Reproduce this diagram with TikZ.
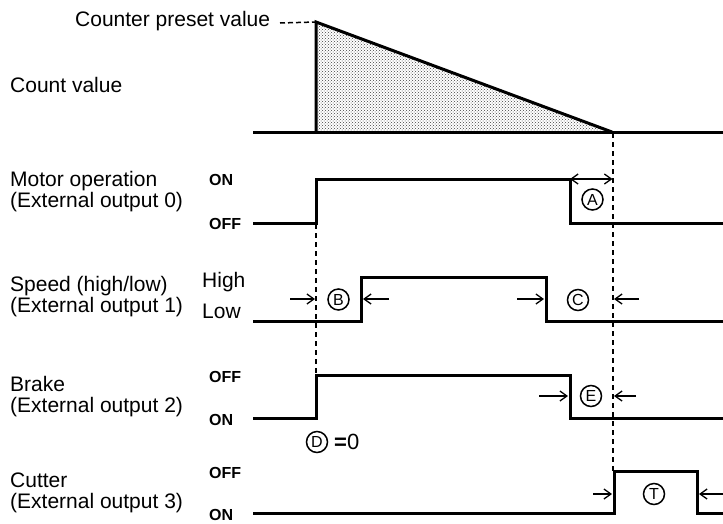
\documentclass[tikz,border=0pt]{standalone}
\usepackage{fontspec}
\setmainfont{Liberation Sans}
\usetikzlibrary{arrows.meta,patterns}
\begin{document}
\begin{tikzpicture}[x=1pt,y=-1pt,
  sig/.style={line width=3pt,line join=miter,line cap=butt},
  guide/.style={line width=1.6pt,dash pattern=on 5pt off 4pt},
  dim/.style={line width=1.3pt,-{Straight Barb[length=7pt,width=10pt,line width=1.3pt]}},
  dimboth/.style={line width=1.3pt,{Straight Barb[length=7pt,width=10pt,line width=1.3pt]}-{Straight Barb[length=7pt,width=10pt,line width=1.3pt]}},
  lbl/.style={anchor=base west,inner sep=0pt,font=\fontsize{21}{21}\selectfont},
  lvl/.style={anchor=base west,inner sep=0pt,font=\fontsize{16}{16}\selectfont\bfseries},
  circ/.style={circle,draw,line width=1.5pt,minimum size=21pt,inner sep=0pt,font=\fontsize{16}{16}\selectfont}]
\useasboundingbox (0,0) rectangle (723,523);

% ---------- Count value ----------
\node[lbl] (preset) at (75,26) {Counter preset value};
\node[lbl] (count) at (10,92) {Count value};
\coordinate (top) at (316,22);
\coordinate (zero) at (612,132);
\fill[pattern=crosshatch dots,pattern color=black!75] (316,132) -- (top) -- (zero) -- cycle;
\draw[sig] (253,132) -- (723,132);
\draw[sig] (316,132) -- (top) -- (zero);
\draw[line width=1.5pt,dash pattern=on 5pt off 3pt] (280,23) -- (top);

% ---------- Motor operation ----------
\node[lbl] (m1) at (10,186) {Motor operation};
\node[lbl] (m2) at (10,207) {(External output 0)};
\node[lvl] (mon) at (209,185) {ON};
\node[lvl] (moff) at (209,229) {OFF};
\draw[sig] (253,223) -- (316,223) -- (316,179) -- (570,179) -- (570,223) -- (723,223);
\draw[dimboth] (570,179) -- (612.5,179);
\node[circ] (A) at (592.5,199.5) {A};

% ---------- Speed ----------
\node[lbl] (s1) at (10,291) {Speed (high/low)};
\node[lbl] (s2) at (10,312) {(External output 1)};
\node[lbl] (high) at (202,287) {High};
\node[lbl] (low) at (202,318) {Low};
\draw[sig] (253,321) -- (361,321) -- (361,277) -- (546,277) -- (546,321) -- (723,321);
\draw[dim] (290,299) -- (315,299);
\node[circ] (B) at (338.5,299.5) {B};
\draw[dim] (389,299) -- (363,299);
\draw[dim] (517,299) -- (544,299);
\node[circ] (C) at (578,300) {C};
\draw[dim] (639,299) -- (614,299);

% ---------- Brake ----------
\node[lbl] (b1) at (10,391) {Brake};
\node[lbl] (b2) at (10,412) {(External output 2)};
\node[lvl] (boff) at (209,382) {OFF};
\node[lvl] (bon) at (209,425) {ON};
\draw[sig] (253,418) -- (316,418) -- (316,375) -- (570,375) -- (570,418) -- (723,418);
\draw[dim] (539,396) -- (568,396);
\node[circ] (E) at (591,396) {E};
\draw[dim] (636,396) -- (614,396);
\node[circ] (D) at (317,442) {D};
\node[anchor=west,inner sep=0pt,font=\fontsize{22}{22}\selectfont] (D0) at (334,442) {\textbf{=}0};

% ---------- Cutter ----------
\node[lbl] (c1) at (10,487) {Cutter};
\node[lbl] (c2) at (10,508) {(External output 3)};
\node[lvl] (coff) at (209,478) {OFF};
\node[lvl] (con) at (209,520) {ON};
\draw[sig] (253,513) -- (614,513) -- (614,471) -- (697,471) -- (697,513) -- (723,513);
\draw[dim] (593,494) -- (612,494);
\node[circ] (T) at (654,494) {T};
\draw[dim] (723,494) -- (699,494);

% ---------- guide lines ----------
\draw[guide] (316,224) -- (316,375);
\draw[guide] (613,133) -- (613,471);
\end{tikzpicture}
\end{document}
